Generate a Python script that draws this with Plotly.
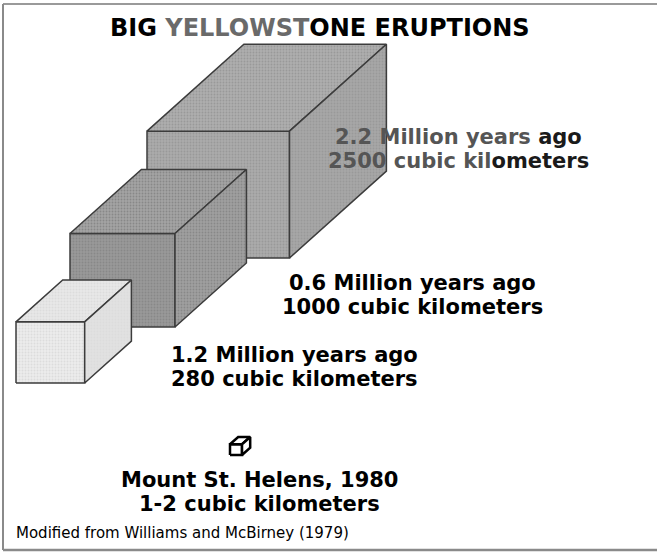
import numpy as np
import plotly.graph_objects as go

# --- data -------------------------------------------------------------
eras = ["2.2 Million years ago", "0.6 Million years ago",
        "1.2 Million years ago", "Mount St. Helens, 1980"]
volumes_km3 = [2500, 1000, 280, 1.5]          # erupted volume (St. Helens: 1-2)
volume_text = ["2500 cubic kilometers", "1000 cubic kilometers",
               "280 cubic kilometers", "1-2 cubic kilometers"]
title_text = "BIG <span style='color:#6a6a6a'>YELLOWST</span>ONE ERUPTIONS"
source_text = "Modified from Williams and McBirney (1979)"

# --- drawing constants ------------------------------------------------
W, H = 657, 556
PX_PER_KM = 10.5                       # drawn length of 1 km of cube edge
HEIGHT_RATIO, DEPTH_X, DEPTH_Y = 0.89, 0.68, 0.61
anchors = [(147, 258), (70, 327), (16, 383), (230, 455)]   # front-bottom-left corners
face_fill = [("#ababab", "#aeaeae", "#a7a7a7"),
             ("#999999", "#a4a4a4", "#a0a0a0"),
             ("#ececec", "#e8e8e8", "#e2e2e2"),
             ("#ffffff", "#ffffff", "#ffffff")]
stipple = ["#999999", "#888888", "#dcdcdc", None]
edge_style = [("#3c3c3c", 1.5), ("#3c3c3c", 1.5), ("#3c3c3c", 1.5), ("#000000", 2.5)]
label_pos = [(458, 137, 161), (412, 283, 307), (294, 355, 379), (259, 480, 504)]
label_color = ["#1a1a1a", "#000000", "#000000", "#000000"]

fig = go.Figure()

for vol, (x0, y0), fills, dots, (lc, lw) in zip(volumes_km3, anchors, face_fill,
                                                stipple, edge_style):
    w = PX_PER_KM * np.cbrt(vol)
    h, dx, dy = HEIGHT_RATIO * w, DEPTH_X * w, DEPTH_Y * w
    faces = [
        ([x0, x0 + w, x0 + w, x0, x0], [y0, y0, y0 - h, y0 - h, y0]),
        ([x0, x0 + w, x0 + w + dx, x0 + dx, x0],
         [y0 - h, y0 - h, y0 - h - dy, y0 - h - dy, y0 - h]),
        ([x0 + w, x0 + w + dx, x0 + w + dx, x0 + w, x0 + w],
         [y0, y0 - dy, y0 - h - dy, y0 - h, y0]),
    ]
    for (fx, fy), col in zip(faces, fills):
        pattern = None
        if dots:
            pattern = dict(shape=".", fgcolor=dots, bgcolor=col, size=3,
                           solidity=0.3, fillmode="replace")
        fig.add_trace(go.Scatter(x=fx, y=fy, mode="lines", fill="toself",
                                 fillcolor=col, fillpattern=pattern,
                                 line=dict(color=lc, width=lw),
                                 hoverinfo="skip", showlegend=False))

label_font = dict(family="DejaVu Sans", size=21, weight="bold")
second_lines = list(volume_text)
second_lines[0] = "<span style='color:#555555'>2500 cubic kil</span>ometers"
first_lines = list(eras)
first_lines[0] = "<span style='color:#555555'>2.2 Million years</span> ago"

for l1, l2, (cx, y1, y2), col in zip(first_lines, second_lines, label_pos, label_color):
    for txt, yy in ((l1, y1), (l2, y2)):
        fig.add_annotation(x=cx, y=yy, text=txt, showarrow=False,
                           xanchor="center", yanchor="middle", borderpad=0,
                           font=dict(label_font, color=col))

fig.add_annotation(x=320, y=28, text=title_text, showarrow=False,
                   xanchor="center", yanchor="middle",
                   font=dict(family="DejaVu Sans", size=24, weight="bold", color="#000"))
fig.add_annotation(x=14, y=533, text=source_text, showarrow=False,
                   xanchor="left", yanchor="middle",
                   font=dict(family="DejaVu Sans", size=15, color="#000"))

# frame around the figure
fig.add_shape(type="line", x0=3, x1=W + 5, y0=4, y1=4, line=dict(color="#9a9a9a", width=2))
fig.add_shape(type="line", x0=3, x1=3, y0=4, y1=550, line=dict(color="#8a8a8a", width=2))
fig.add_shape(type="line", x0=3, x1=W + 5, y0=550, y1=550, line=dict(color="#8a8a8a", width=2.5))

fig.update_xaxes(range=[0, W], visible=False, fixedrange=True)
fig.update_yaxes(range=[H, 0], visible=False, fixedrange=True)
fig.update_layout(width=W, height=H, margin=dict(l=0, r=0, t=0, b=0),
                  paper_bgcolor="white", plot_bgcolor="white")

fig.write_html("out.html")
